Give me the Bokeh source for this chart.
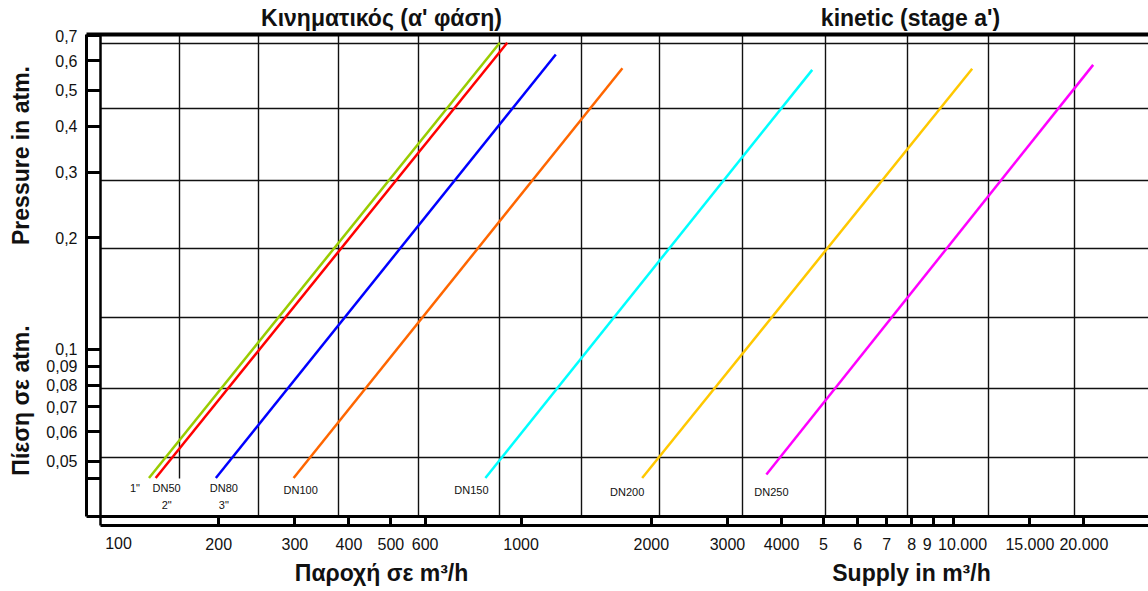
import math
from bokeh.plotting import figure
from bokeh.models import Range1d, FixedTicker, LogAxis, Label, Grid, ColumnDataSource
from bokeh.core.properties import value
from bokeh.embed import file_html
from bokeh.resources import INLINE

# ---------------- data ----------------
SERIES = ['1"', 'DN50\n2"', 'DN80\n3"', 'DN100', 'DN150', 'DN200', 'DN250']
Q_START = [138, 143, 197, 298, 827, 1905, 3690]        # m3/h at the lower end
Q_END = [893, 929, 1203, 1715, 4710, 11035, 21010]     # m3/h at the upper end
P_START = [0.045, 0.045, 0.045, 0.045, 0.045, 0.045, 0.046]  # atm
P_END = [0.671, 0.671, 0.624, 0.573, 0.567, 0.571, 0.585]    # atm
COLORS = ["#99cc00", "#ff0000", "#0000ff", "#ff6600", "#00ffff", "#ffc800", "#ff00ff"]

NB = "\u00a0"
X_TICKS = [200, 300, 400, 500, 600, 1000, 2000, 3000, 4000, 5000, 6000, 7000,
           8000, 9000, 10000, 15000, 20000]
X_TICK_LABELS = ["200", "300", "400", "500", "600", "1000", "2000", "3000", "4000",
                 "5", "6", "7", "8", "9" + NB * 3, NB * 4 + "10.000", "15.000", "20.000"]
Y_TICKS = [0.045, 0.05, 0.06, 0.07, 0.08, 0.09, 0.1, 0.2, 0.3, 0.4, 0.5, 0.6, 0.7]
Y_TICK_LABELS = ["", "0,05", "0,06", "0,07", "0,08", "0,09", "0,1", "0,2", "0,3",
                 "0,4", "0,5", "0,6", "0,7"]

# ---------------- layout helpers (canvas px -> data) ----------------
W, H = 1148, 591
FL, FR, FT, FB = 86, 1148, 34, 525          # chart box edges in canvas px


def qx(px):
    return 10 ** (3.4055 + (px - 696) / 432.6)


def py_(py):
    return 10 ** (-0.7598 - (py - 259.8) / 370.9)


GRID_X_PX = [258, 338, 418, 499, 581, 659, 742, 825, 907, 988, 1074]
GRID_X_FIRST_PX = 179
GRID_Y_PX = [43, 108, 180, 248, 317, 388, 457]

FONT = "Liberation Sans"
INK = "#111111"

p = figure(width=W, height=H, x_axis_type="log", y_axis_type="log",
           x_range=Range1d(qx(0), qx(W)), y_range=Range1d(py_(H), py_(0)),
           output_backend="svg", toolbar_location=None,
           min_border_left=0, min_border_right=0, min_border_top=0,
           min_border_bottom=0)
p.outline_line_color = None
p.background_fill_color = "white"
p.border_fill_color = "white"

# grids
p.xgrid.ticker = FixedTicker(ticks=[qx(v) for v in GRID_X_PX])
p.xgrid.grid_line_color = INK
p.xgrid.grid_line_width = 1.4
p.xgrid.cross_bounds = (py_(516), py_(FT))
p.ygrid.ticker = FixedTicker(ticks=[py_(v) for v in GRID_Y_PX])
p.ygrid.grid_line_color = INK
p.ygrid.grid_line_width = 1.3
p.ygrid.cross_bounds = (qx(100), qx(FR))
p.add_layout(Grid(dimension=0, ticker=FixedTicker(ticks=[qx(GRID_X_FIRST_PX)]),
                  grid_line_color=INK, grid_line_width=1.4,
                  cross_bounds=(py_(478), py_(FT))))
# inner frame lines of the double border
p.add_layout(Grid(dimension=0, ticker=FixedTicker(ticks=[qx(100)]),
                  grid_line_color="black", grid_line_width=2.5,
                  cross_bounds=(py_(FB), py_(FT))))
p.add_layout(Grid(dimension=1, ticker=FixedTicker(ticks=[py_(516)]),
                  grid_line_color="black", grid_line_width=3,
                  cross_bounds=(qx(FL), qx(FR))))

# bottom axis
xa = p.xaxis[0]
xa.fixed_location = py_(FB)
xa.ticker = FixedTicker(ticks=X_TICKS)
xa.major_label_overrides = {t: l for t, l in zip(X_TICKS, X_TICK_LABELS)}
xa.major_tick_in = 9
xa.major_tick_out = 0
xa.major_tick_line_width = 3
xa.axis_line_width = 3
xa.bounds = (qx(100), qx(FR))
xa.major_label_standoff = 10
xa.major_label_text_font = FONT
xa.major_label_text_font_size = "16px"
xa.major_label_text_color = INK

# left axis
ya = p.yaxis[0]
ya.fixed_location = qx(FL)
ya.ticker = FixedTicker(ticks=Y_TICKS)
ya.major_label_overrides = {t: l for t, l in zip(Y_TICKS, Y_TICK_LABELS)}
ya.major_tick_in = 14
ya.major_tick_out = 0
ya.major_tick_line_width = 3
ya.axis_line_width = 3
ya.bounds = (py_(516), py_(FT))
ya.major_label_standoff = 9
ya.major_label_text_font = FONT
ya.major_label_text_font_size = "16px"
ya.major_label_text_color = INK

# top thick border
top = LogAxis(fixed_location=py_(FT), ticker=FixedTicker(ticks=[]), axis_line_width=4,
              major_tick_line_color=None, minor_tick_line_color=None,
              major_label_text_font_size="0px", bounds=(qx(FL), qx(FR)))
p.add_layout(top, "above")

# curves
src = ColumnDataSource(dict(q0=Q_START, p0=P_START, q1=Q_END, p1=P_END, color=COLORS))
p.segment(x0="q0", y0="p0", x1="q1", y1="p1", color="color", line_width=2.5, source=src)

# curve labels
LABEL_DX = [-14, 11, 8, 7, -14, -15, 5]
LABEL_DY = [0, 0, 0, 2, 2, 3.5, 3.5]
lsrc = ColumnDataSource(dict(q=Q_START, p=[py_(481.5)] * len(SERIES), text=SERIES,
                             dx=LABEL_DX, dy=LABEL_DY))
p.text(x="q", y="p", text="text", x_offset="dx", y_offset="dy", source=lsrc,
       text_font=value(FONT), text_font_size="11px", text_align="center",
       text_baseline="top", text_line_height=1.4, text_color=INK)

# "100" label of the bottom axis (placed at the axis start, as in the original)
p.add_layout(Label(x=100, y=py_(542), x_offset=30,
                   text="100", text_font=FONT, text_font_size="16px",
                   text_align="center", text_baseline="middle", text_color=INK))


# titles and axis titles (placed by canvas position)
def add_text(t, cx, cy, angle=0.0):
    p.add_layout(Label(x=cx, y=H - cy, x_units="screen", y_units="screen", text=t,
                       text_font=FONT, text_font_style="bold", text_font_size="23px",
                       text_align="center", text_baseline="middle", angle=angle,
                       text_color=INK))


add_text("Κινηματικός (α' φάση)", 381, 17)
add_text("kinetic (stage a')", 910, 17)
add_text("Παροχή σε m³/h", 381, 572)
add_text("Supply in m³/h", 911, 572)
add_text("Pressure in atm.", 20, 155, math.pi / 2)
add_text("Πίεση σε atm.", 20, 400, math.pi / 2)

open("out.html", "w").write(file_html(p, INLINE))
